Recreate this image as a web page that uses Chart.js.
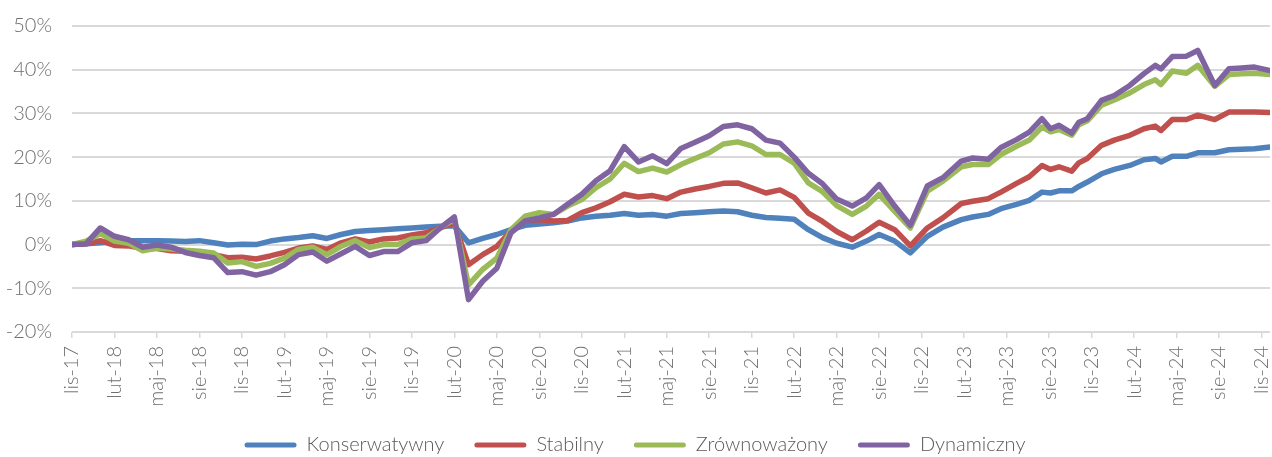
<!DOCTYPE html>
<html lang="pl">
<head>
<meta charset="utf-8">
<title>Wyniki portfeli</title>
<script src="https://cdn.jsdelivr.net/npm/chart.js@4"></script>
<style>
  body { margin: 0; background: #fff; }
  #kontener { width: 1272px; height: 457px; position: relative; }
</style>
</head>
<body>
<div id="kontener"><canvas id="wykres"></canvas></div>
<script>
// os X: miesiace liczone od lis-17 (0 = listopad 2017)
var miesiace = [
  0, 1, 2, 3, 4, 5, 6, 7, 8, 9, 10, 11, 12, 13, 14, 15, 16, 17, 18, 19,
  20, 21, 22, 23, 24, 25, 26, 27, 28, 29, 30, 31, 32, 33, 34, 35, 36, 37, 38, 39,
  40, 41, 42, 43, 44, 45, 46, 47, 48, 49, 50, 51, 52, 53, 54,
  55.1, 56.1, 57, 58.1, 59.2, 60.4, 61.5, 62.8, 63.6, 64.7,
  65.6, 66.7, 67.6, 68.5, 69.1, 69.7, 70.6, 71.1, 71.7, 72.7,
  73.6, 74.7, 75.7, 76.5, 76.9, 77.7, 78.7, 79.5, 80.7, 81.7,
  82.6, 83.5, 84.6
];

var etykiety = ["lis-17", "lut-18", "maj-18", "sie-18", "lis-18", "lut-19", "maj-19", "sie-19",
  "lis-19", "lut-20", "maj-20", "sie-20", "lis-20", "lut-21", "maj-21", "sie-21", "lis-21",
  "lut-22", "maj-22", "sie-22", "lis-22", "lut-23", "maj-23", "sie-23", "lis-23", "lut-24",
  "maj-24", "sie-24", "lis-24"];

var konserwatywny = [
  0, 0.2, 0.4, 0.8, 0.9, 0.9, 0.9, 0.8, 0.7, 0.9, 0.4, -0.1, 0.1, 0, 0.8, 1.3, 1.6, 2.0, 1.4, 2.3,
  3.0, 3.2, 3.4, 3.6, 3.8, 4.0, 4.2, 4.3, 0.4, 1.4, 2.3, 3.4, 4.4, 4.7, 5.0, 5.4, 6.1, 6.5, 6.7, 7.1,
  6.7, 6.9, 6.5, 7.1, 7.3, 7.5, 7.7, 7.5, 6.7, 6.2, 6.0, 5.8, 3.4, 1.6, 0.3,
  -0.6, 0.8, 2.3, 0.8, -1.9, 1.9, 4.0, 5.7, 6.3, 6.9,
  8.2, 9.2, 10.1, 12.0, 11.8, 12.3, 12.3, 13.3, 14.3, 16.2,
  17.2, 18.1, 19.4, 19.7, 18.9, 20.2, 20.2, 21.0, 21.0, 21.7,
  21.8, 21.9, 22.3
];

var stabilny = [
  0, 0.2, 0.9, -0.2, -0.3, -0.9, -0.9, -1.4, -1.5, -1.7, -2.3, -3.0, -2.9, -3.3, -2.6, -1.8, -0.8, -0.3, -1.1, 0.4,
  1.3, 0.6, 1.3, 1.5, 2.2, 2.7, 3.8, 4.9, -4.6, -2.3, -0.4, 3.1, 5.5, 5.7, 5.4, 5.5, 7.3, 8.4, 9.8, 11.5,
  10.9, 11.2, 10.5, 12.0, 12.7, 13.3, 14.0, 14.1, 13.0, 11.8, 12.5, 10.8, 7.2, 5.3, 3.0,
  1.1, 3.1, 5.1, 3.4, -0.3, 3.8, 6.1, 9.4, 9.9, 10.5,
  12.0, 14.0, 15.5, 18.1, 17.2, 17.8, 16.8, 18.7, 19.7, 22.7,
  23.9, 25.0, 26.5, 27.1, 26.1, 28.6, 28.6, 29.6, 28.6, 30.3,
  30.3, 30.3, 30.2
];

var zrownowazony = [
  0, 0.8, 2.5, 0.8, 0.3, -1.4, -0.8, -1.0, -1.3, -1.5, -1.9, -4.2, -3.9, -5.0, -4.3, -3.1, -1.1, -0.6, -2.3, -0.4,
  0.9, -0.7, 0, 0, 1.3, 1.5, 3.8, 5.8, -9.2, -5.7, -3.1, 3.4, 6.5, 7.3, 6.9, 8.8, 10.3, 13.0, 15.0, 18.6,
  16.7, 17.5, 16.6, 18.3, 19.7, 21.0, 23.0, 23.5, 22.6, 20.6, 20.6, 18.6, 14.1, 12.1, 8.9,
  6.9, 8.8, 11.5, 7.6, 3.8, 12.2, 14.5, 17.8, 18.3, 18.3,
  20.6, 22.5, 23.9, 26.9, 25.8, 26.3, 25.0, 27.4, 28.3, 31.9,
  33.1, 34.7, 36.6, 37.7, 36.6, 39.7, 39.2, 41.0, 36.2, 38.9,
  39.1, 39.2, 38.9
];

var dynamiczny = [
  0, 0.2, 3.8, 1.9, 1.1, -0.6, -0.1, -0.6, -1.8, -2.5, -3.0, -6.4, -6.2, -7.0, -6.2, -4.6, -2.3, -1.7, -3.8, -2.1,
  -0.4, -2.5, -1.6, -1.6, 0.4, 0.9, 3.8, 6.3, -12.6, -8.4, -5.4, 2.7, 5.4, 6.1, 6.9, 9.2, 11.5, 14.6, 16.9, 22.4,
  18.9, 20.3, 18.5, 22.0, 23.4, 24.9, 27.0, 27.4, 26.5, 23.9, 23.2, 20.0, 16.3, 13.9, 10.4,
  8.8, 10.7, 13.7, 8.8, 4.4, 13.4, 15.3, 19.1, 19.8, 19.5,
  22.2, 24.0, 25.7, 28.8, 26.5, 27.3, 25.5, 28.0, 28.8, 33.0,
  34.1, 36.4, 39.1, 41.0, 40.2, 43.0, 43.1, 44.4, 36.4, 40.2,
  40.4, 40.6, 39.8
];

function punkty(wartosci) {
  var lista = [];
  for (var i = 0; i < wartosci.length; i++) {
    lista.push({ x: miesiace[i], y: wartosci[i] });
  }
  return lista;
}

function seria(nazwa, wartosci, kolor, kolejnosc) {
  return {
    label: nazwa,
    data: punkty(wartosci),
    borderColor: kolor,
    backgroundColor: kolor,
    borderWidth: 5.5,
    borderJoinStyle: "round",
    borderCapStyle: "round",
    pointRadius: 0,
    tension: 0,
    order: kolejnosc
  };
}

var czcionka = "Lato, 'Open Sans', sans-serif";

// legenda ma poziomy odstep 30, ale nizsza wysokosc
const nizszaLegenda = {
  id: "nizszaLegenda",
  beforeInit(chart) {
    const legenda = chart.legend;
    const fit = legenda.fit;
    legenda.fit = function () {
      fit.call(this);
      this.height = 50;
    };
  }
};

const config = {
  type: "line",
  data: {
    datasets: [
      seria("Konserwatywny", konserwatywny, "#4f81bd", 4),
      seria("Stabilny", stabilny, "#c0504d", 3),
      seria("Zrównoważony", zrownowazony, "#9bbb59", 2),
      seria("Dynamiczny", dynamiczny, "#8064a2", 1)
    ]
  },
  options: {
    responsive: true,
    maintainAspectRatio: false,
    animation: false,
    layout: { padding: { top: 26, right: 2, left: 0, bottom: 2 } },
    scales: {
      x: {
        type: "linear",
        min: 0,
        max: 84.6,
        afterFit: function (s) {
          s.height = 73;
          s.paddingLeft = 0;
          s.paddingRight = 0;
        },
        grid: { drawOnChartArea: false, drawTicks: true, tickLength: 6, color: "#d9d9d9", lineWidth: 1.5 },
        border: { display: false },
        ticks: {
          stepSize: 3,
          includeBounds: false,
          autoSkip: false,
          maxRotation: 90,
          minRotation: 90,
          padding: 8,
          color: "#6f6f6f",
          font: { family: czcionka, size: 20, weight: 300 },
          callback: function (v) {
            var k = Math.round(v / 3);
            return etykiety[k] || "";
          }
        }
      },
      y: {
        min: -20,
        max: 50,
        afterFit: function (s) {
          s.width = 72;
          s.paddingTop = 0;
          s.paddingBottom = 0;
        },
        grid: { color: "#d9d9d9", lineWidth: 2, drawTicks: false },
        border: { display: false },
        ticks: {
          stepSize: 10,
          padding: 20,
          color: "#6f6f6f",
          font: { family: czcionka, size: 20, weight: 300 },
          callback: function (v) { return v + "%"; }
        }
      }
    },
    plugins: {
      tooltip: { enabled: false },
      legend: {
        position: "bottom",
        labels: {
          boxWidth: 52,
          boxHeight: 5,
          padding: 30,
          color: "#595959",
          font: { family: czcionka, size: 20, weight: 300 },
          sort: function (a, b) { return a.datasetIndex - b.datasetIndex; },
          generateLabels: function (chart) {
            var lista = Chart.defaults.plugins.legend.labels.generateLabels(chart);
            lista.forEach(function (el) {
              el.lineWidth = 0;
              el.borderRadius = 2.5;
            });
            return lista;
          }
        }
      }
    }
  },
  plugins: [nizszaLegenda]
};

const ctx = document.getElementById("wykres").getContext("2d");
const wykres = new Chart(ctx, config);
</script>
</body>
</html>
